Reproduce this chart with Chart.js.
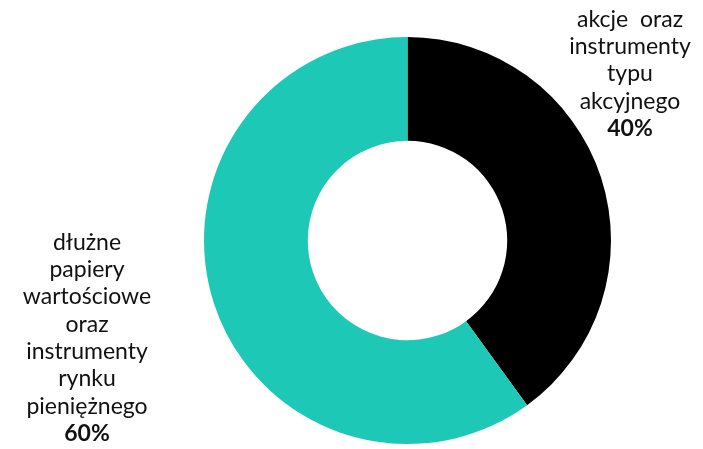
<!DOCTYPE html>
<html>
<head>
<meta charset="utf-8">
<script src="https://cdn.jsdelivr.net/npm/chart.js@4/dist/chart.umd.min.js"></script>
<style>
  html, body { margin: 0; padding: 0; background: #fff; }
  #wrap { width: 703px; height: 449px; position: relative; }
</style>
</head>
<body>
<div id="wrap"><canvas id="chart"></canvas></div>
<script>
const categories = ['akcje oraz instrumenty typu akcyjnego', 'dłużne papiery wartościowe oraz instrumenty rynku pieniężnego'];
const shares = [40, 60];
const colors = ['#000000', '#1dc8b7'];
const labelLines = [
  ['akcje oraz', 'instrumenty', 'typu', 'akcyjnego'],
  ['dłużne', 'papiery', 'wartościowe', 'oraz', 'instrumenty', 'rynku', 'pieniężnego'],
];

// labels drawn next to the ring, anchored to the chart area
const sideLabels = {
  id: 'sideLabels',
  afterDraw(chart) {
    const { ctx, chartArea } = chart;
    const lh = 27.3;
    ctx.save();
    ctx.fillStyle = '#111';
    ctx.textAlign = 'center';
    ctx.textBaseline = 'middle';
    ctx.wordSpacing = '6px';

    const blocks = [
      { x: chartArea.right + 19, yMid: chartArea.top + 37 },
      { x: chartArea.left - 117, yMid: chartArea.top + 301 },
    ];
    blocks.forEach((b, i) => {
      const lines = labelLines[i];
      const n = lines.length + 1;
      let y = b.yMid - (n - 1) * lh / 2;
      ctx.font = '23px Lato';
      lines.forEach((t) => {
        ctx.fillText(t, b.x, y);
        y += lh;
      });
      ctx.font = 'bold 23px Lato';
      ctx.fillText(shares[i] + '%', b.x, y);
    });
    ctx.restore();
  },
};

new Chart(document.getElementById('chart'), {
  type: 'doughnut',
  data: {
    labels: categories,
    datasets: [
      {
        data: shares,
        backgroundColor: colors,
        borderWidth: 0,
      },
    ],
  },
  options: {
    responsive: true,
    maintainAspectRatio: false,
    animation: false,
    cutout: '49%',
    layout: { padding: { top: 37, bottom: 5, left: 204, right: 92 } },
    plugins: {
      legend: { display: false },
      tooltip: { enabled: false },
    },
  },
  plugins: [sideLabels],
});
</script>
</body>
</html>
